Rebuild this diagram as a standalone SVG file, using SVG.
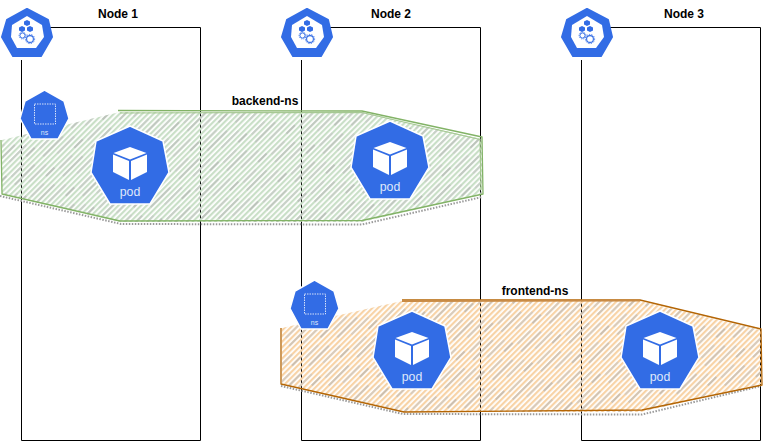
<svg xmlns="http://www.w3.org/2000/svg" width="764" height="442" viewBox="0 0 764 442">
<style>
text{font-family:"Liberation Sans",Arial,sans-serif}
.label{font-size:12px;font-weight:bold;fill:#000;text-anchor:middle}
.box{fill:none;stroke:#000;stroke-width:1}
.kube{fill:#326ce5;stroke:#fff;stroke-width:1.500;stroke-linejoin:round}
.white{fill:#fff}
.podt{font-size:12.300px;fill:#dfe7fa;text-anchor:middle}
.nst{font-size:7px;fill:#dfe7fa;text-anchor:middle}
.shadow{fill:none;stroke:#9a9a9a;stroke-width:2;stroke-dasharray:1.500 1.500}
.g{fill:none;stroke:#82b366;stroke-width:1.300;stroke-linejoin:round}
.o{fill:none;stroke:#b46504;stroke-width:1.300;stroke-linejoin:round}
.o2{fill:none;stroke:#c98b45;stroke-width:1.800}
.g2{fill:none;stroke:#a6c993;stroke-width:1.200}
</style>
<defs>
<pattern id="hg" width="4" height="4" patternUnits="userSpaceOnUse" patternTransform="rotate(-45)"><rect x="0" y="0" width="4" height="2.200" fill="#c9dfc7"/></pattern>
<pattern id="hgs" width="40" height="28" patternUnits="userSpaceOnUse" patternTransform="rotate(-45)"><rect x="0" y="0.400" width="28" height="1.300" fill="#bdbdbd"/><rect x="12" y="8.400" width="24" height="1.300" fill="#c8c8c8"/><rect x="28" y="16.400" width="12" height="1.300" fill="#b5b5b5"/><rect x="3" y="20.400" width="18" height="1.300" fill="#c8c8c8"/></pattern>
<pattern id="ho" width="4" height="4" patternUnits="userSpaceOnUse" patternTransform="rotate(-45)"><rect x="0" y="0" width="4" height="2.200" fill="#f8d3a6"/></pattern>
<symbol id="podshape" overflow="visible" viewBox="-40 -40 80 80" width="80" height="80">
<polygon class="kube" points="0,-39 33,-24 39,7.500 20,39 -20,39 -39,7.500 -34,-24"/>
<polygon class="white" points="0,-18 16.500,-12 0,-5.500 -16.500,-12"/>
<polygon class="white" points="-17,-10.500 -1,-4 -1,15 -17,7"/>
<polygon class="white" points="1,-4 17,-10.500 17,7 1,15"/>
</symbol>
<symbol id="nsshape" overflow="visible" viewBox="-25 -25 50 50" width="50" height="50">
<polygon class="kube" points="-0.500,-25 19,-14 24,3.500 13,24 -14,24 -25,3.500 -20,-14"/>
<rect x="-10.500" y="-11" width="21" height="20" fill="none" stroke="#fff" stroke-width="0.800" stroke-dasharray="1.500 1"/>
</symbol>
<symbol id="cp" overflow="visible" viewBox="0 0 54 58" width="54" height="58">
<polygon points="27,9 48,20 52,37 41,56 13,56 2,37 7,20" fill="#326ce5" stroke="#326ce5" stroke-width="2" stroke-linejoin="round"/>
<polygon points="27,16 42,25 44,37 36,48 17,48 11,37 12,25" fill="#fff"/>
<polygon points="27,20 30,21.500 30,24.500 27,26 24,24.500 24,21.500" fill="#326ce5"/>
<polygon points="22,26 25,27.500 25,30.500 22,32 19,30.500 19,27.500" fill="#326ce5"/>
<polygon points="30,26 33,27.500 33,30.500 30,32 27,30.500 27,27.500" fill="#326ce5"/>
<circle cx="22.500" cy="35.500" r="2.600" fill="#fff" stroke="#326ce5" stroke-width="1"/>
<circle cx="22.500" cy="35.500" r="3.500" fill="none" stroke="#326ce5" stroke-width="0.800" stroke-dasharray="1 1"/>
<circle cx="30" cy="39" r="3.400" fill="#fff" stroke="#326ce5" stroke-width="1.100"/>
<circle cx="30" cy="39" r="4.600" fill="none" stroke="#326ce5" stroke-width="0.900" stroke-dasharray="1.300 1.200"/>
</symbol>
</defs>
<g id="node-1"><polyline class="box" points="21.500,60 21.500,440.500 200.500,440.500 200.500,27.500 50,27.500"/><text class="label" x="118" y="18">Node 1</text></g>
<g id="node-2"><polyline class="box" points="301.500,60 301.500,440.500 480.500,440.500 480.500,27.500 330,27.500"/><text class="label" x="391" y="18">Node 2</text></g>
<g id="node-3"><polyline class="box" points="581.500,60 581.500,440.500 760.500,440.500 760.500,27.500 610,27.500"/><text class="label" x="684" y="18">Node 3</text></g>
<g id="backend-ns">
<polyline class="shadow" points="0,196 121,224 362,224.500 482,197"/>
<polygon points="2,140 120,112 362,112 482,139 482,194 362,222 120,222 2,194" fill="url(#hg)"/>
<polygon points="2,140 120,112 362,112 482,139 482,194 362,222 120,222 2,194" fill="url(#hgs)"/>
<polyline class="g" points="118,110.500 362,111 482,137 483,194 362,220.500 120,221 2,194 1,140"/>
<polyline class="g2" points="120,113 362,112.500 480,139.500 481,190"/>
<text class="label" x="265" y="105">backend-ns</text>
</g>
<g id="frontend-ns">
<polyline class="shadow" points="281,386 403,414 642,414.500 761,386"/>
<polygon points="282,328 402,301 640,301 761,330 761,384 641,412 402,412 282,384" fill="url(#ho)"/>
<polygon points="282,328 402,301 640,301 761,330 761,384 641,412 402,412 282,384" fill="url(#hgs)"/>
<polyline class="o" points="402,300 640,300 761,329 762,385 642,410 404,412 281,384 281,328"/>
<polyline class="o2" points="402,301 640,300.500 M283,384 404,410.500 642,412 760,383 M282,328 282,384"/>
<text class="label" x="535" y="295">frontend-ns</text>
</g>
<g id="control-plane-1"><use href="#cp" x="0" y="0"/></g>
<g id="control-plane-2"><use href="#cp" x="280" y="0"/></g>
<g id="control-plane-3"><use href="#cp" x="560" y="0"/></g>
<g id="ns-backend"><use href="#nsshape" x="20" y="90"/><text class="nst" x="44.500" y="135">ns</text></g>
<g id="ns-frontend"><use href="#nsshape" x="290" y="280"/><text class="nst" x="314.500" y="325">ns</text></g>
<g id="pod-1"><use href="#podshape" x="90" y="125"/><text class="podt" x="130" y="196">pod</text></g>
<g id="pod-2"><use href="#podshape" x="350" y="120"/><text class="podt" x="390" y="191">pod</text></g>
<g id="pod-3"><use href="#podshape" x="372" y="310"/><text class="podt" x="412" y="381">pod</text></g>
<g id="pod-4"><use href="#podshape" x="620" y="310"/><text class="podt" x="660" y="381">pod</text></g>
</svg>
